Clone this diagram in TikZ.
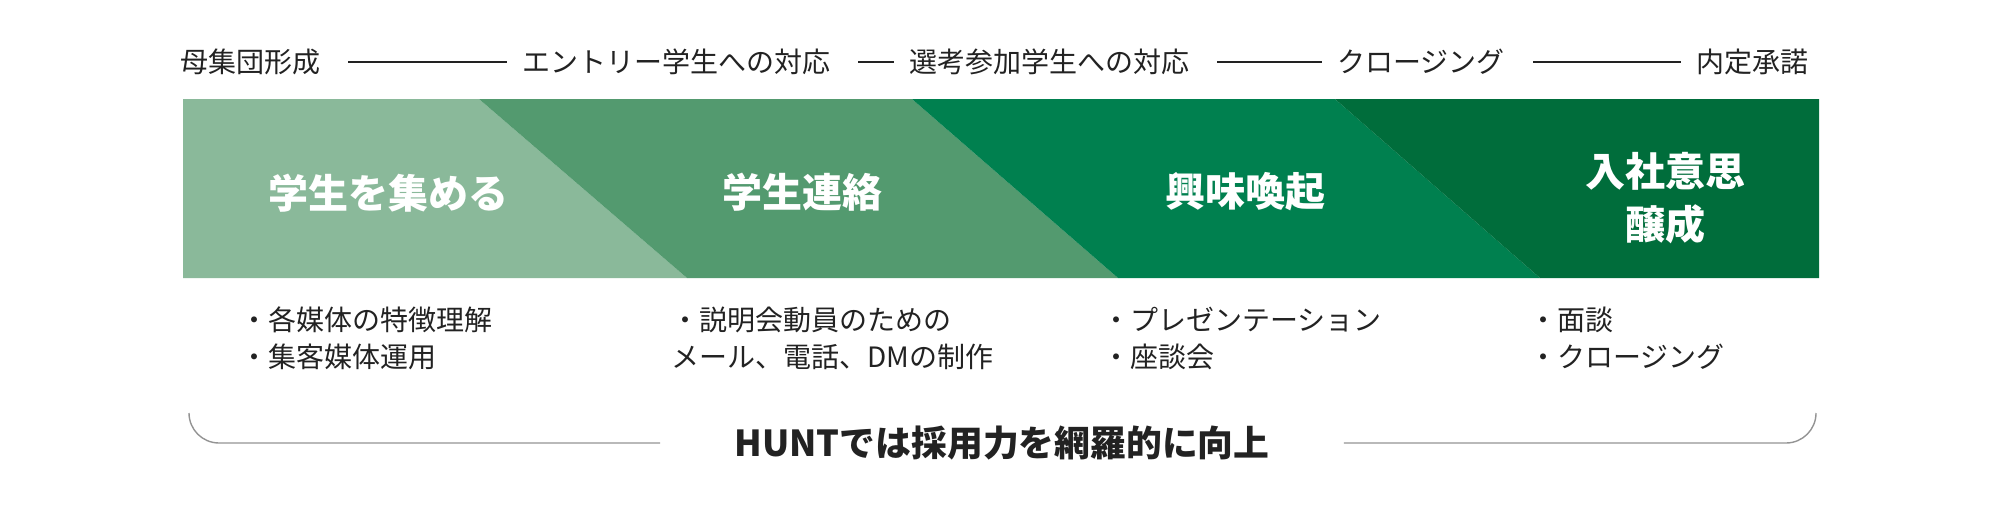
\documentclass[tikz,border=0pt]{standalone}
\usepackage{fontspec}
\setmainfont{Noto Sans CJK JP}
\definecolor{stageA}{HTML}{8AB99A}
\definecolor{stageB}{HTML}{539A6F}
\definecolor{stageC}{HTML}{00804F}
\definecolor{stageD}{HTML}{006D3B}
\definecolor{ink}{HTML}{222222}
\tikzset{
  toplabel/.style={text=ink,font=\fontsize{14pt}{17pt}\selectfont,inner sep=0pt},
  stagetitle/.style={text=white,font=\fontsize{20pt}{26.5pt}\selectfont\bfseries,align=center,inner sep=0pt},
  note/.style={text=ink,font=\fontsize{14pt}{18.5pt}\selectfont,align=left,anchor=west,inner sep=0pt},
  stageline/.style={draw=ink,line width=0.6pt,shorten <=14pt,shorten >=7.5pt},
  bracket/.style={draw=gray!85,line width=0.7pt,rounded corners=15pt}
}
\begin{document}
\begin{tikzpicture}[x=0.5pt,y=-0.5pt]
  \useasboundingbox (0,0) rectangle (2000,520);
  \fill[stageA] (183,99) -- (479,99) -- (687,278) -- (183,278) -- cycle;
  \fill[stageB] (479,99) -- (912,99) -- (1118,278) -- (687,278) -- cycle;
  \fill[stageC] (912,99) -- (1335,99) -- (1540,278) -- (1118,278) -- cycle;
  \fill[stageD] (1335,99) -- (1819,99) -- (1819,278) -- (1540,278) -- cycle;
  \node[toplabel] (boshu) at (250,62) {母集団形成};
  \node[toplabel] (entry) at (676,62) {エントリー学生への対応};
  \node[toplabel] (senko) at (1049,62) {選考参加学生への対応};
  \node[toplabel] (closing) at (1421,62) {クロージング};
  \node[toplabel] (naitei) at (1752,62) {内定承諾};
  \draw[stageline] (boshu) -- (entry);
  \draw[stageline] (entry) -- (senko);
  \draw[stageline] (senko) -- (closing);
  \draw[stageline] (closing) -- (naitei);
  \node[stagetitle] (atsumeru) at (388,193) {学生を集める};
  \node[stagetitle] (renraku) at (802,192) {学生連絡};
  \node[stagetitle] (kanki) at (1245,192) {興味喚起};
  \node[stagetitle] (jousei) at (1665,198) {入社意思\\醸成};
  \node[note] (noteA) at (240,338.5) {・各媒体の特徴理解\\・集客媒体運用};
  \node[note] (noteB) at (671,338.5) {・説明会動員のための\\メール、電話、DMの制作};
  \node[note] (noteC) at (1102,338.5) {・プレゼンテーション\\・座談会};
  \node[note] (noteD) at (1529,338.5) {・面談\\・クロージング};
  \node[text=ink,font=\fontsize{17.9pt}{20pt}\selectfont\bfseries,inner sep=0pt] (hunt) at (1002,443) {HUNTでは採用力を網羅的に向上};
  \coordinate (bl) at (189,413);
  \coordinate (br) at (1816,413);
  \draw[bracket,shorten >=37pt] (bl) |- (hunt.west);
  \draw[bracket,shorten >=37pt] (br) |- (hunt.east);
\end{tikzpicture}
\end{document}
